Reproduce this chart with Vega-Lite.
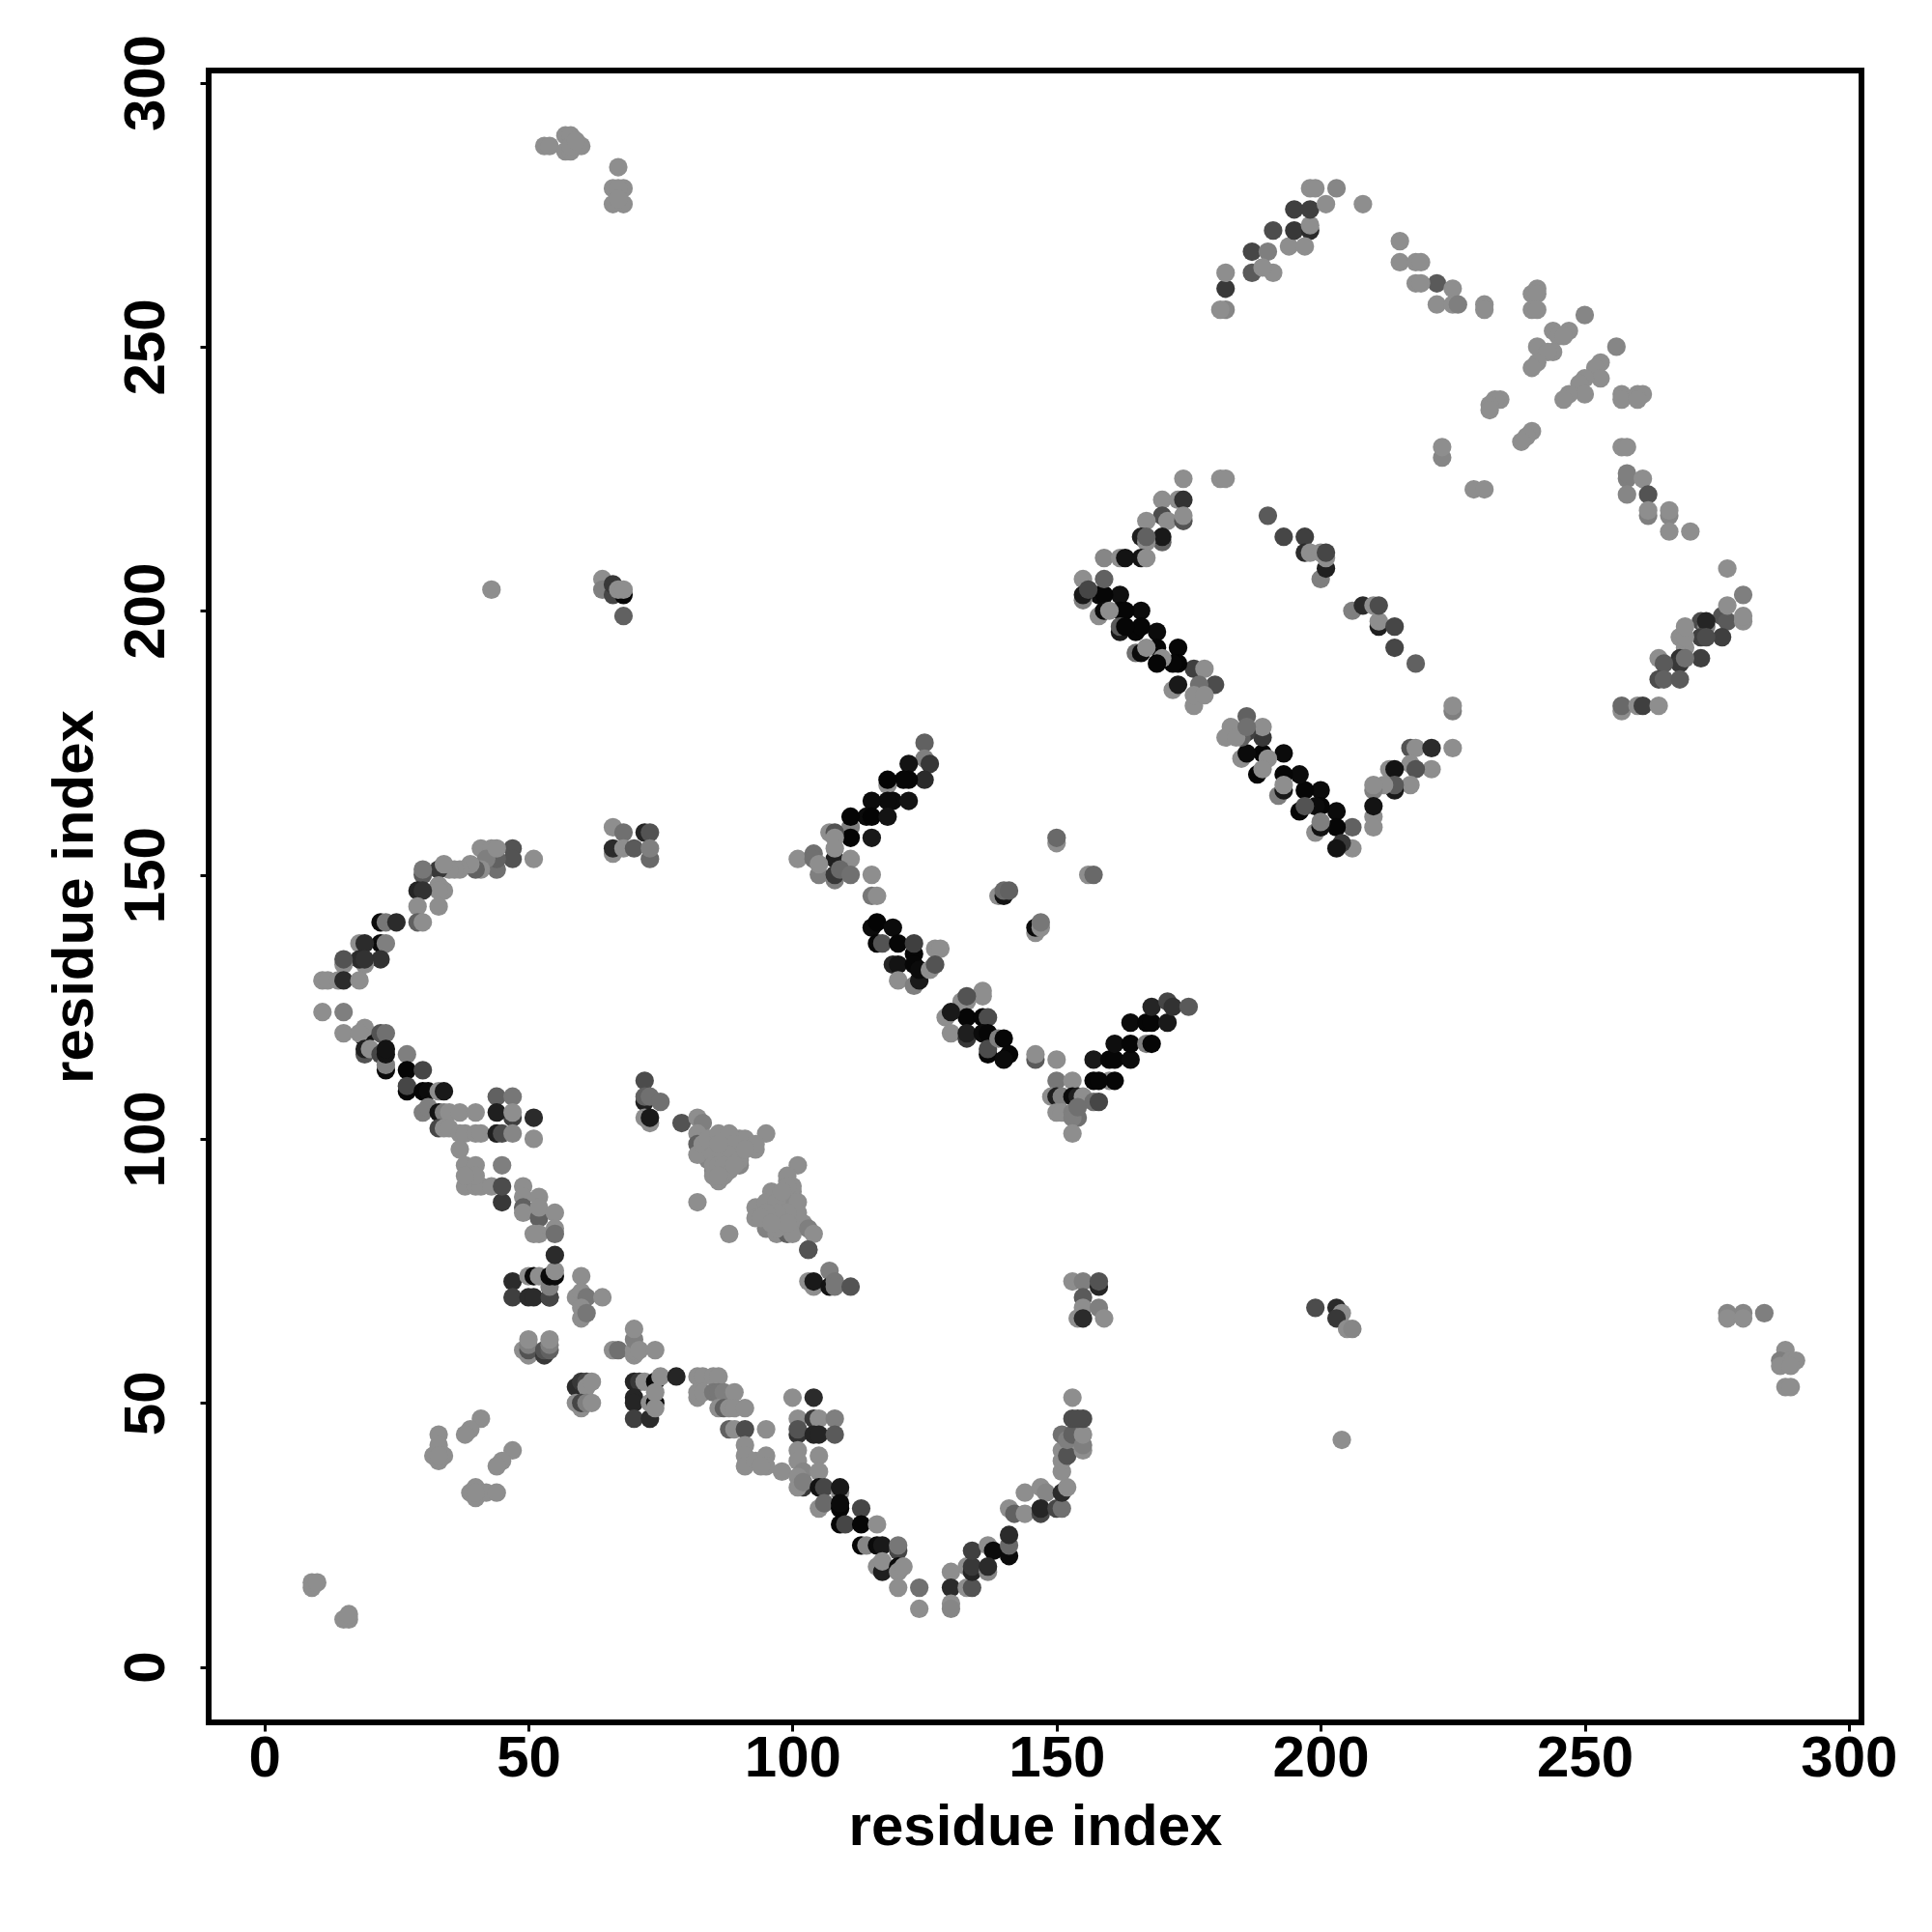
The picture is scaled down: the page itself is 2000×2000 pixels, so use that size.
{"$schema":"https://vega.github.io/schema/vega-lite/v6.json","autosize":{"type":"none"},"padding":{"left":216,"top":73,"right":73,"bottom":217},"width":1711,"height":1710,"background":"white","config":{"view":{"stroke":"#000000","strokeWidth":6},"font":"Liberation Sans"},
"data":{"values":[
{"x":84,"y":100,"s":0.02},{"x":87,"y":100,"s":0.02},{"x":90,"y":100,"s":0.02},{"x":84,"y":98,"s":0.03},{"x":87,"y":98,"s":0.03},{"x":90,"y":98,"s":0.03},{"x":93,"y":98,"s":0},{"x":84,"y":96,"s":0.06},{"x":86,"y":96,"s":0.05},{"x":88,"y":96,"s":0.05},{"x":90,"y":95,"s":0.05},{"x":85,"y":94,"s":0.05},{"x":87,"y":94,"s":0.08},{"x":86,"y":92,"s":0},{"x":99,"y":92,"s":0},{"x":100,"y":90,"s":0},{"x":98,"y":89,"s":0},{"x":96,"y":88,"s":0.02},{"x":99,"y":88,"s":0.02},{"x":94,"y":87,"s":0.03},{"x":97,"y":87,"s":0.03},{"x":100,"y":87,"s":0.03},{"x":94,"y":85,"s":0.05},{"x":96,"y":85,"s":0.05},{"x":98,"y":85,"s":0.05},{"x":100,"y":85,"s":0},{"x":95,"y":83,"s":0.08},{"x":98,"y":83,"s":0.15},{"x":100,"y":83,"s":0.05},{"x":102,"y":84,"s":0},
{"x":9,"y":15,"s":0},{"x":9,"y":16,"s":0},{"x":10,"y":16,"s":0},{"x":15,"y":9,"s":0},{"x":16,"y":9,"s":0},{"x":16,"y":10,"s":0},
{"x":33,"y":44,"s":0},{"x":33,"y":42,"s":0},{"x":32,"y":40,"s":0},{"x":33,"y":39,"s":0},{"x":34,"y":40,"s":0},{"x":33,"y":40,"s":0},{"x":41,"y":47,"s":0},{"x":39,"y":45,"s":0},{"x":38,"y":44,"s":0},{"x":47,"y":41,"s":0},{"x":45,"y":39,"s":0},{"x":44,"y":38,"s":0},{"x":39,"y":33,"s":0},{"x":40,"y":34,"s":0},{"x":40,"y":32,"s":0},{"x":42,"y":33,"s":0},{"x":44,"y":33,"s":0},{"x":40,"y":33,"s":0},
{"x":47,"y":73,"s":0.7},{"x":47,"y":70,"s":0.55},{"x":50,"y":74,"s":0},{"x":51,"y":74,"s":0.95},{"x":50,"y":70,"s":0.7},{"x":51,"y":70,"s":0.7},{"x":52,"y":74,"s":0},{"x":54,"y":70,"s":0.8},{"x":54,"y":70,"s":0.5},{"x":54,"y":72,"s":0.1},{"x":54,"y":74,"s":0.95},{"x":55,"y":74,"s":0.95},{"x":55,"y":75,"s":0},{"x":55,"y":78,"s":0.7},
{"x":60,"y":74,"s":0},{"x":59,"y":70,"s":0},{"x":60,"y":71,"s":0},{"x":61,"y":70,"s":0.15},{"x":64,"y":70,"s":0},{"x":60,"y":66,"s":0},{"x":60,"y":68,"s":0},{"x":61,"y":67,"s":0.15},
{"x":49,"y":60,"s":0},{"x":50,"y":59,"s":0},{"x":50,"y":60,"s":0.4},{"x":50,"y":61,"s":0.1},{"x":50,"y":62,"s":0},{"x":53,"y":59,"s":0.6},{"x":53,"y":60,"s":0.4},{"x":54,"y":60,"s":0.3},{"x":54,"y":61,"s":0.1},{"x":54,"y":62,"s":0},
{"x":59,"y":53,"s":0.7},{"x":60,"y":54,"s":0.6},{"x":61,"y":54,"s":0.5},{"x":61,"y":53,"s":0},{"x":62,"y":54,"s":0},{"x":59,"y":50,"s":0},{"x":60,"y":49,"s":0},{"x":60,"y":50,"s":0.5},{"x":61,"y":50,"s":0.1},{"x":62,"y":50,"s":0},
{"x":66,"y":60,"s":0},{"x":67,"y":60,"s":0.2},{"x":70,"y":59,"s":0},{"x":70,"y":60,"s":0},{"x":70,"y":62,"s":0.1},{"x":70,"y":64,"s":0},{"x":71,"y":60,"s":0},{"x":74,"y":60,"s":0},
{"x":70,"y":54,"s":0.75},{"x":71,"y":54,"s":0.6},{"x":72,"y":54,"s":0},{"x":70,"y":51,"s":0.75},{"x":70,"y":50,"s":0.75},{"x":70,"y":47,"s":0.55},{"x":73,"y":47,"s":0.7},{"x":74,"y":54,"s":0.95},{"x":75,"y":55,"s":0},{"x":73,"y":50,"s":0},{"x":74,"y":50,"s":0.95},{"x":74,"y":49,"s":0},{"x":74,"y":52,"s":0},{"x":78,"y":55,"s":0.75},
{"x":82,"y":55,"s":0},{"x":83,"y":55,"s":0},{"x":85,"y":55,"s":0},{"x":86,"y":55,"s":0},{"x":82,"y":51,"s":0},{"x":82,"y":52,"s":0},{"x":83,"y":52,"s":0},{"x":85,"y":52,"s":0.15},{"x":86,"y":52,"s":0.15},{"x":87,"y":52,"s":0.1},{"x":89,"y":52,"s":0},{"x":86,"y":49,"s":0},{"x":87,"y":49,"s":0.3},{"x":88,"y":49,"s":0},{"x":89,"y":49,"s":0},{"x":91,"y":49,"s":0},
{"x":88,"y":45,"s":0.3},{"x":89,"y":45,"s":0},{"x":91,"y":45,"s":0.45},{"x":95,"y":45,"s":0},{"x":91,"y":42,"s":0},{"x":91,"y":40,"s":0},{"x":91,"y":38,"s":0},{"x":93,"y":39,"s":0},{"x":95,"y":40,"s":0},{"x":95,"y":38,"s":0},{"x":94,"y":38,"s":0},{"x":98,"y":37,"s":0},
{"x":100,"y":51,"s":0},{"x":104,"y":51,"s":0.7},{"x":101,"y":47,"s":0},{"x":104,"y":47,"s":0.6},{"x":105,"y":47,"s":0},{"x":108,"y":47,"s":0.1},{"x":101,"y":44,"s":0.65},{"x":101,"y":45,"s":0.4},{"x":104,"y":44,"s":0.75},{"x":105,"y":44,"s":0.75},{"x":108,"y":44,"s":0.35},{"x":101,"y":41,"s":0},{"x":105,"y":40,"s":0},{"x":101,"y":39,"s":0},{"x":102,"y":37,"s":0.05},{"x":101,"y":36,"s":0},{"x":102,"y":34,"s":0.6},{"x":101,"y":34,"s":0},{"x":102,"y":35,"s":0.1},{"x":105,"y":37,"s":0},
{"x":105,"y":34,"s":0.9},{"x":106,"y":34,"s":0.5},{"x":109,"y":33,"s":0},{"x":105,"y":30,"s":0},{"x":106,"y":31,"s":0.25},{"x":109,"y":34,"s":0.85},{"x":109,"y":30,"s":0.97},{"x":109,"y":31,"s":0.95},{"x":109,"y":27,"s":0.97},{"x":110,"y":27,"s":0.5},{"x":113,"y":30,"s":0.5},{"x":113,"y":27,"s":0.97},{"x":116,"y":27,"s":0},
{"x":113,"y":23,"s":0.97},{"x":114,"y":23,"s":0.05},{"x":116,"y":23,"s":0.95},{"x":117,"y":23,"s":0.85},{"x":120,"y":22,"s":0.5},{"x":120,"y":23,"s":0.15},{"x":116,"y":19,"s":0},{"x":117,"y":18,"s":0.8},{"x":117,"y":20,"s":0},{"x":120,"y":19,"s":0.95},{"x":120,"y":18,"s":0},{"x":121,"y":19,"s":0},{"x":120,"y":15,"s":0},{"x":124,"y":15,"s":0.2},{"x":124,"y":11,"s":0},
{"x":130,"y":18,"s":0},{"x":130,"y":15,"s":0.7},{"x":130,"y":12,"s":0},{"x":130,"y":11,"s":0.05},{"x":133,"y":15,"s":0},{"x":134,"y":15,"s":0.4},{"x":133,"y":19,"s":0},{"x":134,"y":18,"s":0.75},{"x":134,"y":19,"s":0.6},{"x":134,"y":22,"s":0.55},{"x":137,"y":23,"s":0},{"x":138,"y":22,"s":0.95},{"x":137,"y":18,"s":0.05},{"x":137,"y":19,"s":0.7},{"x":141,"y":21,"s":0.95},{"x":141,"y":23,"s":0.25},{"x":141,"y":25,"s":0.7},
{"x":141,"y":30,"s":0},{"x":142,"y":29,"s":0.3},{"x":144,"y":29,"s":0},{"x":144,"y":33,"s":0},{"x":147,"y":34,"s":0},{"x":148,"y":33,"s":0.05},{"x":147,"y":29,"s":0.5},{"x":147,"y":30,"s":0.75},{"x":150,"y":30,"s":0.5},{"x":151,"y":30,"s":0.2},{"x":151,"y":33,"s":0.7},{"x":152,"y":34,"s":0},{"x":151,"y":37,"s":0},{"x":151,"y":39,"s":0},{"x":151,"y":41,"s":0},{"x":152,"y":42,"s":0},{"x":152,"y":40,"s":0.4},{"x":151,"y":44,"s":0.2},{"x":152,"y":43,"s":0.1},{"x":153,"y":44,"s":0.3},{"x":155,"y":41,"s":0},{"x":155,"y":42,"s":0.1},{"x":155,"y":44,"s":0},{"x":153,"y":47,"s":0.45},{"x":155,"y":47,"s":0.45},{"x":154,"y":47,"s":0.45},{"x":153,"y":51,"s":0},
{"x":153,"y":73,"s":0},{"x":155,"y":73,"s":0.1},{"x":158,"y":72,"s":0.75},{"x":158,"y":73,"s":0.4},{"x":155,"y":70,"s":0.35},{"x":155,"y":68,"s":0},{"x":154,"y":66,"s":0},{"x":155,"y":66,"s":0.7},{"x":158,"y":68,"s":0.1},{"x":159,"y":66,"s":0},
{"x":107,"y":75,"s":0.1},{"x":103,"y":73,"s":0},{"x":104,"y":72,"s":0},{"x":104,"y":73,"s":0.85},{"x":107,"y":72,"s":0.9},{"x":108,"y":73,"s":0.15},{"x":108,"y":72,"s":0.15},{"x":111,"y":72,"s":0.4},{"x":103,"y":79,"s":0.4},
{"x":51,"y":153,"s":0},{"x":47,"y":155,"s":0.4},{"x":47,"y":153,"s":0.4},{"x":44,"y":151,"s":0.2},{"x":44,"y":153,"s":0.3},{"x":41,"y":155,"s":0},{"x":43,"y":155,"s":0},{"x":42,"y":153,"s":0.1},{"x":44,"y":155,"s":0},{"x":41,"y":151,"s":0},{"x":40,"y":151,"s":0.3},{"x":39,"y":152,"s":0},{"x":37,"y":151,"s":0},{"x":36,"y":151,"s":0},{"x":35,"y":151,"s":0},{"x":33,"y":151,"s":0.6},{"x":34,"y":152,"s":0},{"x":30,"y":150,"s":0.35},{"x":30,"y":151,"s":0.15},
{"x":34,"y":147,"s":0},{"x":33,"y":148,"s":0},{"x":33,"y":147,"s":0},{"x":29,"y":147,"s":0.75},{"x":30,"y":147,"s":0.65},{"x":33,"y":144,"s":0},{"x":29,"y":144,"s":0},{"x":29,"y":141,"s":0.3},{"x":30,"y":141,"s":0},{"x":22,"y":141,"s":0.95},{"x":23,"y":141,"s":0.15},{"x":25,"y":141,"s":0.7},{"x":22,"y":137,"s":0.95},{"x":23,"y":137,"s":0.1},{"x":18,"y":137,"s":0},{"x":19,"y":137,"s":0.7},{"x":22,"y":134,"s":0.65},{"x":19,"y":133,"s":0},{"x":18,"y":134,"s":0.7},{"x":19,"y":134,"s":0.65},{"x":15,"y":133,"s":0},{"x":15,"y":134,"s":0.4},{"x":11,"y":130,"s":0},{"x":12,"y":130,"s":0},{"x":14,"y":130,"s":0},{"x":15,"y":130,"s":0.7},{"x":18,"y":130,"s":0},{"x":11,"y":124,"s":0},{"x":15,"y":124,"s":0.1},
{"x":15,"y":120,"s":0},{"x":19,"y":119,"s":0.9},{"x":19,"y":121,"s":0},{"x":18,"y":120,"s":0},{"x":22,"y":120,"s":0.4},{"x":23,"y":120,"s":0.2},{"x":19,"y":116,"s":0.4},{"x":19,"y":117,"s":0.8},{"x":20,"y":117,"s":0},{"x":22,"y":116,"s":0.5},{"x":23,"y":113,"s":0.95},{"x":23,"y":114,"s":0.1},{"x":23,"y":116,"s":0.9},{"x":23,"y":117,"s":0.9},{"x":27,"y":116,"s":0.1},{"x":27,"y":113,"s":0.98},{"x":30,"y":113,"s":0.5},{"x":27,"y":109,"s":0.97},{"x":27,"y":110,"s":0.5},{"x":30,"y":109,"s":0.97},{"x":31,"y":109,"s":0.95},{"x":33,"y":109,"s":0},{"x":34,"y":109,"s":0.85},
{"x":30,"y":105,"s":0.1},{"x":31,"y":106,"s":0.1},{"x":33,"y":105,"s":0.9},{"x":34,"y":105,"s":0.1},{"x":35,"y":105,"s":0},{"x":37,"y":105,"s":0},{"x":40,"y":105,"s":0},{"x":33,"y":102,"s":0.5},{"x":34,"y":102,"s":0},{"x":35,"y":102,"s":0},{"x":37,"y":101,"s":0},{"x":38,"y":101,"s":0},{"x":40,"y":101,"s":0},{"x":41,"y":101,"s":0},
{"x":44,"y":108,"s":0.3},{"x":47,"y":108,"s":0.15},{"x":47,"y":104,"s":0.55},{"x":44,"y":105,"s":0.8},{"x":47,"y":105,"s":0},{"x":51,"y":104,"s":0.7},{"x":44,"y":101,"s":0.8},{"x":45,"y":101,"s":0.45},{"x":47,"y":101,"s":0.05},{"x":51,"y":100,"s":0},{"x":37,"y":98,"s":0},{"x":38,"y":95,"s":0},{"x":40,"y":95,"s":0},{"x":45,"y":95,"s":0.1},{"x":38,"y":91,"s":0},{"x":40,"y":91,"s":0},{"x":41,"y":91,"s":0},{"x":40,"y":93,"s":0},{"x":38,"y":93,"s":0},{"x":43,"y":91,"s":0},{"x":45,"y":88,"s":0.6},{"x":45,"y":91,"s":0.45},{"x":49,"y":91,"s":0},{"x":49,"y":89,"s":0},{"x":49,"y":87,"s":0.3},{"x":49,"y":86,"s":0},{"x":52,"y":89,"s":0},{"x":52,"y":85,"s":0.3},{"x":52,"y":87,"s":0},{"x":52,"y":82,"s":0},{"x":51,"y":82,"s":0},{"x":55,"y":86,"s":0},{"x":55,"y":83,"s":0},{"x":55,"y":82,"s":0.2},
{"x":66,"y":159,"s":0},{"x":68,"y":158,"s":0.2},{"x":72,"y":158,"s":0.75},{"x":73,"y":158,"s":0.4},{"x":66,"y":154,"s":0},{"x":66,"y":155,"s":0.7},{"x":68,"y":155,"s":0},{"x":70,"y":155,"s":0.35},{"x":73,"y":153,"s":0.25},{"x":73,"y":155,"s":0.1},
{"x":72,"y":111,"s":0.45},{"x":72,"y":107,"s":0.8},{"x":72,"y":108,"s":0.3},{"x":73,"y":108,"s":0.2},{"x":75,"y":107,"s":0.2},{"x":72,"y":104,"s":0},{"x":73,"y":103,"s":0},{"x":73,"y":104,"s":0.85},{"x":79,"y":103,"s":0.4},
{"x":82,"y":104,"s":0},{"x":83,"y":103,"s":0.1},{"x":82,"y":101,"s":0},{"x":82,"y":99,"s":0.3},{"x":82,"y":97,"s":0},{"x":83,"y":99,"s":0},{"x":84,"y":100,"s":0},{"x":86,"y":101,"s":0},{"x":88,"y":101,"s":0},{"x":91,"y":100,"s":0},{"x":95,"y":101,"s":0},{"x":93,"y":99,"s":0},{"x":89,"y":99,"s":0},{"x":86,"y":97,"s":0},{"x":88,"y":97,"s":0},{"x":90,"y":96,"s":0},{"x":85,"y":97,"s":0},{"x":85,"y":93,"s":0},{"x":87,"y":93,"s":0},{"x":85,"y":95,"s":0},{"x":88,"y":94,"s":0},{"x":86,"y":95,"s":0},{"x":86,"y":99,"s":0},{"x":87,"y":95,"s":0},{"x":89,"y":95,"s":0},{"x":91,"y":98,"s":0},{"x":86,"y":93,"s":0},
{"x":82,"y":88,"s":0},{"x":88,"y":82,"s":0},
{"x":101,"y":95,"s":0},{"x":99,"y":93,"s":0},{"x":100,"y":91,"s":0},{"x":96,"y":90,"s":0},{"x":99,"y":91,"s":0},{"x":93,"y":87,"s":0},{"x":93,"y":85,"s":0},{"x":95,"y":88,"s":0},{"x":101,"y":88,"s":0},{"x":101,"y":86,"s":0},{"x":97,"y":88,"s":0},{"x":99,"y":86,"s":0},{"x":97,"y":86,"s":0},{"x":95,"y":86,"s":0},{"x":97,"y":82,"s":0},{"x":99,"y":82,"s":0.3},{"x":100,"y":82,"s":0},{"x":97,"y":83,"s":0},{"x":99,"y":84,"s":0},{"x":98,"y":90,"s":0},{"x":94,"y":85,"s":0},{"x":96,"y":84,"s":0},{"x":103,"y":83,"s":0.1},{"x":104,"y":82,"s":0},{"x":103,"y":79,"s":0.4},
{"x":125,"y":175,"s":0.3},{"x":125,"y":172,"s":0.1},{"x":126,"y":171,"s":0.6},{"x":125,"y":168,"s":0.7},{"x":122,"y":171,"s":0.9},{"x":122,"y":168,"s":0.97},{"x":121,"y":168,"s":0.97},{"x":118,"y":167,"s":0},{"x":118,"y":168,"s":0.98},{"x":119,"y":164,"s":0.95},{"x":118,"y":164,"s":0.95},{"x":122,"y":164,"s":0.9},{"x":115,"y":164,"s":0.95},{"x":114,"y":161,"s":0.95},{"x":115,"y":161,"s":0.98},{"x":111,"y":159,"s":0.1},{"x":111,"y":161,"s":0.98},{"x":118,"y":161,"s":0.9},{"x":111,"y":157,"s":0.98},{"x":115,"y":157,"s":0.85},{"x":107,"y":158,"s":0},{"x":108,"y":158,"s":0.4},{"x":108,"y":157,"s":0},
{"x":108,"y":153,"s":0.8},{"x":108,"y":155,"s":0},{"x":101,"y":153,"s":0},{"x":104,"y":154,"s":0.2},{"x":104,"y":153,"s":0.2},{"x":111,"y":153,"s":0},{"x":105,"y":150,"s":0.1},{"x":105,"y":152,"s":0},{"x":108,"y":149,"s":0.1},{"x":108,"y":150,"s":0.6},{"x":109,"y":151,"s":0.25},{"x":111,"y":150,"s":0.2},{"x":115,"y":150,"s":0},{"x":115,"y":146,"s":0.15},{"x":116,"y":146,"s":0},
{"x":115,"y":140,"s":0.95},{"x":116,"y":141,"s":0.98},{"x":119,"y":140,"s":0.95},{"x":116,"y":137,"s":0.97},{"x":117,"y":137,"s":0.4},{"x":120,"y":137,"s":0.97},{"x":119,"y":133,"s":0.75},{"x":120,"y":133,"s":0.9},{"x":123,"y":135,"s":0.97},{"x":123,"y":133,"s":0.97},{"x":123,"y":137,"s":0.55},{"x":120,"y":130,"s":0},{"x":123,"y":129,"s":0.1},{"x":124,"y":130,"s":0.85},{"x":124,"y":132,"s":0.95},{"x":126,"y":132,"s":0},{"x":127,"y":136,"s":0},{"x":128,"y":136,"s":0},{"x":127,"y":133,"s":0.4},
{"x":150,"y":156,"s":0},{"x":150,"y":157,"s":0.25},{"x":156,"y":150,"s":0},{"x":157,"y":150,"s":0.25},{"x":139,"y":146,"s":0},{"x":140,"y":146,"s":0.9},{"x":140,"y":147,"s":0.25},{"x":141,"y":147,"s":0.3},{"x":146,"y":139,"s":0},{"x":146,"y":140,"s":0.95},{"x":147,"y":140,"s":0},{"x":147,"y":141,"s":0.15},
{"x":136,"y":128,"s":0},{"x":136,"y":127,"s":0},{"x":132,"y":126,"s":0},{"x":133,"y":126,"s":0},{"x":133,"y":127,"s":0.4},{"x":133,"y":123,"s":0.97},{"x":129,"y":123,"s":0},{"x":130,"y":124,"s":0.85},{"x":130,"y":120,"s":0},{"x":133,"y":119,"s":0.6},{"x":133,"y":120,"s":0.8},{"x":136,"y":123,"s":0.97},{"x":137,"y":123,"s":0.45},{"x":136,"y":120,"s":0.95},{"x":137,"y":120,"s":0.97},{"x":137,"y":116,"s":0.97},{"x":137,"y":117,"s":0.45},{"x":139,"y":119,"s":0.1},{"x":140,"y":119,"s":0.97},{"x":141,"y":116,"s":0.97},{"x":140,"y":115,"s":0.95},{"x":146,"y":115,"s":0.35},{"x":146,"y":116,"s":0},{"x":150,"y":115,"s":0},
{"x":157,"y":115,"s":0.85},{"x":160,"y":115,"s":0.97},{"x":161,"y":115,"s":0.97},{"x":164,"y":115,"s":0.95},{"x":161,"y":118,"s":0.93},{"x":164,"y":118,"s":0.97},{"x":164,"y":122,"s":0.95},{"x":167,"y":118,"s":0.1},{"x":168,"y":118,"s":0.97},{"x":167,"y":122,"s":0.97},{"x":168,"y":122,"s":0.97},{"x":171,"y":122,"s":0.85},{"x":168,"y":125,"s":0.75},{"x":171,"y":126,"s":0.5},{"x":172,"y":125,"s":0.65},{"x":175,"y":125,"s":0.35},{"x":160,"y":111,"s":0},{"x":161,"y":111,"s":0.97},{"x":157,"y":111,"s":0.97},{"x":158,"y":111,"s":0.97},
{"x":150,"y":111,"s":0.15},{"x":153,"y":111,"s":0},{"x":149,"y":108,"s":0},{"x":150,"y":108,"s":0.8},{"x":151,"y":108,"s":0.1},{"x":153,"y":108,"s":0.95},{"x":154,"y":108,"s":0.8},{"x":155,"y":108,"s":0},{"x":157,"y":107,"s":0.2},{"x":158,"y":107,"s":0.5},{"x":150,"y":105,"s":0},{"x":151,"y":105,"s":0},{"x":153,"y":105,"s":0.1},{"x":154,"y":104,"s":0.2},{"x":153,"y":104,"s":0.1},{"x":154,"y":106,"s":0.2},{"x":153,"y":101,"s":0},
{"x":174,"y":225,"s":0},{"x":181,"y":225,"s":0},{"x":182,"y":225,"s":0},{"x":170,"y":221,"s":0},{"x":173,"y":221,"s":0},{"x":174,"y":221,"s":0.65},{"x":170,"y":218,"s":0.45},{"x":171,"y":217,"s":0},{"x":174,"y":217,"s":0.4},{"x":174,"y":218,"s":0},{"x":167,"y":217,"s":0},{"x":170,"y":213,"s":0.3},{"x":170,"y":214,"s":0.85},{"x":166,"y":214,"s":0.8},{"x":167,"y":213,"s":0},{"x":167,"y":214,"s":0.3},{"x":159,"y":210,"s":0.05},{"x":162,"y":210,"s":0},{"x":163,"y":210,"s":0.9},{"x":166,"y":210,"s":0.9},{"x":167,"y":210,"s":0},
{"x":190,"y":218,"s":0.35},{"x":193,"y":214,"s":0.5},{"x":197,"y":214,"s":0.55},{"x":197,"y":211,"s":0.7},{"x":198,"y":211,"s":0},{"x":200,"y":206,"s":0.1},{"x":200,"y":211,"s":0},{"x":201,"y":208,"s":0.8},{"x":201,"y":210,"s":0},{"x":201,"y":211,"s":0.5},
{"x":206,"y":200,"s":0.1},{"x":208,"y":201,"s":0.7},{"x":210,"y":201,"s":0},{"x":211,"y":197,"s":0.8},{"x":211,"y":198,"s":0},{"x":211,"y":201,"s":0.45},{"x":214,"y":197,"s":0.5},{"x":214,"y":193,"s":0.5},{"x":218,"y":190,"s":0.3},{"x":225,"y":181,"s":0.1},{"x":225,"y":182,"s":0},
{"x":225,"y":174,"s":0},{"x":217,"y":174,"s":0.4},{"x":218,"y":174,"s":0},{"x":221,"y":174,"s":0.7},{"x":221,"y":170,"s":0},{"x":217,"y":171,"s":0},{"x":218,"y":170,"s":0.4},{"x":217,"y":167,"s":0},{"x":213,"y":170,"s":0},{"x":214,"y":170,"s":0.9},{"x":214,"y":166,"s":0.85},{"x":214,"y":167,"s":0.35},{"x":212,"y":167,"s":0},{"x":210,"y":166,"s":0.1},{"x":210,"y":167,"s":0},{"x":210,"y":161,"s":0},{"x":210,"y":163,"s":0.9},{"x":210,"y":159,"s":0},
{"x":206,"y":159,"s":0.3},{"x":206,"y":155,"s":0},{"x":203,"y":162,"s":0.95},{"x":203,"y":159,"s":0.97},{"x":204,"y":156,"s":0.6},{"x":203,"y":155,"s":0.9},{"x":200,"y":166,"s":0.95},{"x":200,"y":163,"s":0.97},{"x":199,"y":163,"s":0.95},{"x":199,"y":158,"s":0},{"x":200,"y":159,"s":0.9},{"x":200,"y":160,"s":0.1},{"x":197,"y":166,"s":0.97},{"x":196,"y":162,"s":0.97},{"x":197,"y":163,"s":0.4},{"x":196,"y":169,"s":0.95},{"x":193,"y":173,"s":0.95},{"x":193,"y":169,"s":0.97},{"x":192,"y":165,"s":0.1},{"x":193,"y":166,"s":0.85},{"x":193,"y":167,"s":0},{"x":189,"y":173,"s":0.97},{"x":190,"y":172,"s":0},{"x":188,"y":169,"s":0.97},{"x":189,"y":170,"s":0},{"x":185,"y":172,"s":0},{"x":186,"y":173,"s":0.95},{"x":189,"y":176,"s":0.6},{"x":189,"y":178,"s":0},{"x":186,"y":177,"s":0.55},{"x":185,"y":176,"s":0.3},{"x":186,"y":180,"s":0.3},{"x":183,"y":178,"s":0},{"x":182,"y":176,"s":0},{"x":184,"y":176,"s":0},{"x":186,"y":178,"s":0.2},
{"x":180,"y":186,"s":0.45},{"x":176,"y":189,"s":0.55},{"x":178,"y":189,"s":0},{"x":176,"y":182,"s":0},{"x":177,"y":186,"s":0.2},{"x":176,"y":184,"s":0},{"x":178,"y":184,"s":0},{"x":173,"y":193,"s":0.97},{"x":173,"y":190,"s":0.98},{"x":172,"y":190,"s":0.97},{"x":172,"y":185,"s":0},{"x":173,"y":186,"s":0.85},{"x":169,"y":196,"s":0.95},{"x":169,"y":193,"s":0.97},{"x":170,"y":191,"s":0},{"x":169,"y":190,"s":0.97},{"x":166,"y":200,"s":0.95},{"x":165,"y":196,"s":0.97},{"x":166,"y":197,"s":0.97},{"x":165,"y":192,"s":0.2},{"x":166,"y":192,"s":0.95},{"x":167,"y":193,"s":0},{"x":162,"y":203,"s":0.92},{"x":162,"y":200,"s":0.97},{"x":163,"y":200,"s":0.97},{"x":162,"y":196,"s":0.85},{"x":162,"y":197,"s":0.35},{"x":163,"y":197,"s":0.97},{"x":158,"y":203,"s":0.95},{"x":159,"y":203,"s":0.97},{"x":159,"y":206,"s":0.3},{"x":158,"y":199,"s":0},{"x":159,"y":200,"s":0.95},{"x":160,"y":200,"s":0},{"x":155,"y":206,"s":0},{"x":155,"y":202,"s":0.1},{"x":155,"y":203,"s":0.85},{"x":156,"y":204,"s":0.5},
{"x":222,"y":262,"s":0.35},{"x":225,"y":261,"s":0},{"x":222,"y":258,"s":0},{"x":225,"y":258,"s":0},{"x":226,"y":258,"s":0.1},{"x":231,"y":258,"s":0},{"x":231,"y":257,"s":0},{"x":241,"y":261,"s":0},{"x":240,"y":260,"s":0},{"x":241,"y":260,"s":0},{"x":240,"y":257,"s":0},{"x":241,"y":257,"s":0},{"x":250,"y":256,"s":0.05},{"x":247,"y":253,"s":0},{"x":244,"y":253,"s":0},{"x":245,"y":252,"s":0},{"x":246,"y":252,"s":0},{"x":241,"y":250,"s":0},{"x":244,"y":249,"s":0},{"x":243,"y":249,"s":0},{"x":241,"y":247,"s":0},{"x":240,"y":246,"s":0},{"x":256,"y":250,"s":0.05},{"x":253,"y":247,"s":0},{"x":252,"y":246,"s":0},{"x":253,"y":244,"s":0},{"x":250,"y":244,"s":0},{"x":249,"y":243,"s":0},{"x":250,"y":241,"s":0},{"x":247,"y":241,"s":0},{"x":246,"y":240,"s":0},{"x":257,"y":241,"s":0},{"x":257,"y":240,"s":0},{"x":260,"y":241,"s":0},{"x":261,"y":241,"s":0},{"x":260,"y":240,"s":0},{"x":234,"y":240,"s":0},{"x":233,"y":240,"s":0},{"x":232,"y":239,"s":0},{"x":232,"y":238,"s":0},{"x":240,"y":234,"s":0},{"x":239,"y":233,"s":0},{"x":238,"y":232,"s":0},{"x":223,"y":229,"s":0.05},{"x":223,"y":231,"s":0},{"x":257,"y":231,"s":0},{"x":258,"y":231,"s":0},{"x":229,"y":223,"s":0},{"x":231,"y":223,"s":0},{"x":258,"y":225,"s":0.1},{"x":258,"y":226,"s":0.1},{"x":261,"y":225,"s":0},{"x":258,"y":222,"s":0.05},{"x":262,"y":222,"s":0.4},{"x":262,"y":218,"s":0.1},{"x":262,"y":219,"s":0},{"x":266,"y":218,"s":0.05},{"x":266,"y":219,"s":0},{"x":266,"y":215,"s":0},{"x":270,"y":215,"s":0},
{"x":277,"y":208,"s":0},{"x":280,"y":203,"s":0.1},{"x":276,"y":199,"s":0.4},{"x":277,"y":198,"s":0.35},{"x":277,"y":201,"s":0},{"x":280,"y":198,"s":0},{"x":280,"y":199,"s":0},{"x":276,"y":195,"s":0.55},{"x":272,"y":198,"s":0.45},{"x":273,"y":197,"s":0.1},{"x":273,"y":198,"s":0.75},{"x":272,"y":195,"s":0.55},{"x":273,"y":195,"s":0.45},{"x":268,"y":195,"s":0},{"x":269,"y":193,"s":0},{"x":269,"y":195,"s":0},{"x":269,"y":197,"s":0},{"x":272,"y":191,"s":0.55},{"x":268,"y":191,"s":0.65},{"x":268,"y":190,"s":0.6},{"x":269,"y":191,"s":0.2},{"x":264,"y":191,"s":0},{"x":265,"y":190,"s":0.35},{"x":264,"y":187,"s":0.45},{"x":265,"y":187,"s":0.3},{"x":268,"y":187,"s":0.35},{"x":257,"y":181,"s":0},{"x":257,"y":182,"s":0.25},{"x":260,"y":182,"s":0},{"x":261,"y":182,"s":0.55},{"x":264,"y":182,"s":0},
{"x":182,"y":257,"s":0.05},{"x":181,"y":257,"s":0},{"x":182,"y":261,"s":0.6},{"x":182,"y":264,"s":0},{"x":187,"y":268,"s":0.5},{"x":187,"y":264,"s":0.35},{"x":190,"y":268,"s":0.1},{"x":191,"y":264,"s":0},{"x":189,"y":265,"s":0},{"x":191,"y":272,"s":0.45},{"x":194,"y":269,"s":0},{"x":195,"y":276,"s":0.55},{"x":195,"y":272,"s":0.6},{"x":198,"y":272,"s":0.7},{"x":198,"y":273,"s":0},{"x":198,"y":276,"s":0.55},{"x":197,"y":269,"s":0},{"x":198,"y":280,"s":0},{"x":199,"y":280,"s":0},{"x":201,"y":277,"s":0},{"x":203,"y":280,"s":0.05},{"x":208,"y":277,"s":0},{"x":215,"y":270,"s":0},{"x":215,"y":266,"s":0},{"x":218,"y":266,"s":0},{"x":219,"y":266,"s":0},{"x":218,"y":262,"s":0},{"x":219,"y":262,"s":0},
{"x":53,"y":288,"s":0},{"x":54,"y":288,"s":0},{"x":57,"y":290,"s":0},{"x":58,"y":290,"s":0},{"x":57,"y":287,"s":0},{"x":58,"y":287,"s":0},{"x":60,"y":288,"s":0},{"x":58,"y":288,"s":0},{"x":59,"y":289,"s":0},{"x":67,"y":284,"s":0},{"x":66,"y":280,"s":0},{"x":68,"y":280,"s":0},{"x":67,"y":280,"s":0},{"x":66,"y":277,"s":0},{"x":68,"y":277,"s":0},{"x":67,"y":278,"s":0},
{"x":43,"y":204,"s":0},{"x":64,"y":206,"s":0},{"x":64,"y":204,"s":0.1},{"x":66,"y":203,"s":0.5},{"x":66,"y":205,"s":0.6},{"x":68,"y":203,"s":0.97},{"x":67,"y":204,"s":0},{"x":68,"y":204,"s":0},{"x":68,"y":199,"s":0.3},
{"x":204,"y":43,"s":0},{"x":199,"y":68,"s":0.45},{"x":203,"y":68,"s":0.7},{"x":204,"y":67,"s":0},{"x":203,"y":66,"s":0.6},{"x":205,"y":64,"s":0},{"x":206,"y":64,"s":0.05},{"x":277,"y":67,"s":0.05},{"x":280,"y":67,"s":0.05},{"x":277,"y":66,"s":0},{"x":280,"y":66,"s":0},{"x":284,"y":67,"s":0.1},{"x":288,"y":60,"s":0},{"x":287,"y":58,"s":0.1},{"x":289,"y":58,"s":0},{"x":290,"y":58,"s":0},{"x":287,"y":57,"s":0},{"x":289,"y":57,"s":0},{"x":288,"y":53,"s":0},{"x":289,"y":53,"s":0}
]},
"mark":{"type":"circle","opacity":1,"size":370},
"encoding":{
"x":{"field":"x","type":"quantitative","scale":{"domain":[-10.55,302.4],"nice":false,"zero":false},"axis":{"values":[0,50,100,150,200,250,300],"grid":false,"domain":false,"tickSize":9,"tickWidth":3,"tickColor":"#000000","labelFont":"Liberation Sans","labelFontWeight":"bold","labelFontSize":60,"labelColor":"#000000","labelPadding":-1,"labelOverlap":false,"labelFlush":false,"labelBound":false,"title":"residue index","titleFont":"Liberation Sans","titleFontWeight":"bold","titleFontSize":60,"titleColor":"#000000","titlePadding":12}},
"y":{"field":"y","type":"quantitative","scale":{"domain":[-10.5,302.3],"nice":false,"zero":false},"axis":{"values":[0,50,100,150,200,250,300],"grid":false,"domain":false,"tickSize":9,"tickWidth":3,"tickColor":"#000000","labelFont":"Liberation Sans","labelFontWeight":"bold","labelFontSize":60,"labelColor":"#000000","labelAngle":-90,"labelAlign":"center","labelBaseline":"bottom","labelPadding":25,"labelOverlap":false,"labelFlush":false,"labelBound":false,"title":"residue index","titleFont":"Liberation Sans","titleFontWeight":"bold","titleFontSize":60,"titleColor":"#000000","titlePadding":13}},
"color":{"field":"s","type":"quantitative","scale":{"domain":[0,1],"range":["#8e8e8e","#000000"]},"legend":null}
}}
